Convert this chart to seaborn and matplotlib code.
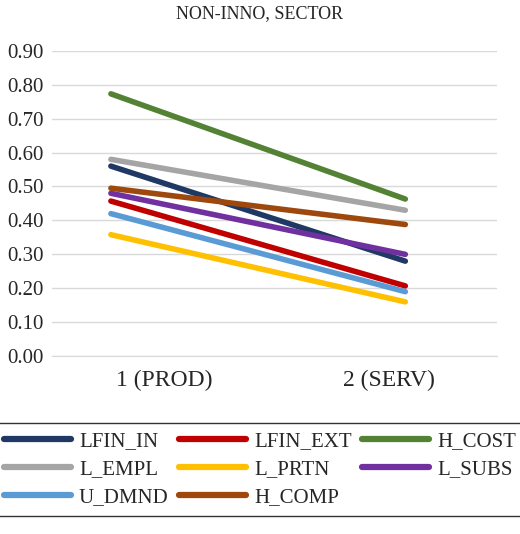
import matplotlib
matplotlib.use("Agg")
import matplotlib.pyplot as plt
import seaborn as sns
import pandas as pd

categories = ["1 (PROD)", "2 (SERV)"]
series_names = ["LFIN_IN", "LFIN_EXT", "H_COST", "L_EMPL", "L_PRTN", "L_SUBS", "U_DMND", "H_COMP"]
lfin_in = [0.56, 0.28]
lfin_ext = [0.457, 0.207]
h_cost = [0.773, 0.463]
l_empl = [0.58, 0.43]
l_prtn = [0.358, 0.16]
l_subs = [0.48, 0.30]
u_dmnd = [0.42, 0.19]
h_comp = [0.495, 0.388]
colors = ["#1F3864", "#C00000", "#548235", "#A5A5A5", "#FFC000", "#7030A0", "#5B9BD5", "#9E480E"]

values = [lfin_in, lfin_ext, h_cost, l_empl, l_prtn, l_subs, u_dmnd, h_comp]
rows = []
for name, vals in zip(series_names, values):
    for i, v in enumerate(vals):
        rows.append({"x": i, "val": v, "series": name})
df = pd.DataFrame(rows)

sns.set_style("white")
plt.rcParams["font.family"] = ["Liberation Serif", "DejaVu Serif"]

fig = plt.figure(figsize=(5.2, 5.34), dpi=100)
ax = fig.add_axes([0.1, 0.333, 0.855, 0.572])
sns.lineplot(data=df, x="x", y="val", hue="series", hue_order=series_names,
             palette=colors, linewidth=4, ax=ax, legend=False, sort=False)
ax.set_xlim(-0.2, 1.31)
ax.set_ylim(0, 0.9)
ax.set_yticks([i / 10 for i in range(10)])
ax.set_yticklabels([f"{i/10:.2f}" for i in range(10)], fontsize=15)
ax.set_xticks([0.18, 0.945])
ax.set_xticklabels(categories)
ax.tick_params(axis="x", labelsize=17, length=0, pad=10)
ax.tick_params(axis="y", length=0, pad=6)
ax.grid(axis="y", color="#D9D9D9", linewidth=1)
ax.grid(axis="x", visible=False)
for s in ["top", "right", "left"]:
    ax.spines[s].set_visible(False)
ax.spines["bottom"].set_color("#D9D9D9")
ax.set_xlabel("")
ax.set_ylabel("")
fig.suptitle("NON-INNO, SECTOR", y=0.99, fontsize=13)

order = [0, 3, 6, 1, 4, 7, 2, 5]
handles = [plt.Line2D([], [], color=colors[i], linewidth=4.5) for i in order]
labels = [series_names[i] for i in order]
leg = fig.legend(handles, labels, loc="lower center", bbox_to_anchor=(0.5, 0.015),
                 ncol=3, fontsize=15, frameon=True, fancybox=False, edgecolor="black",
                 handlelength=3.2, columnspacing=0.5, handletextpad=0.4, borderpad=0.4,
                 labelspacing=0.4)
leg.get_frame().set_linewidth(1)
fig.savefig("out.png", dpi=100)
